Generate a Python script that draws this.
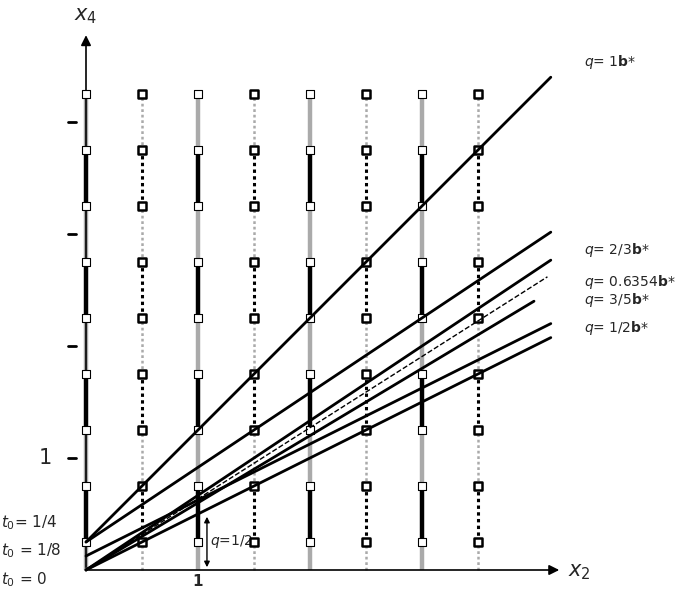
import numpy as np, pandas as pd, matplotlib
matplotlib.use("Agg")
import matplotlib.pyplot as plt, seaborn as sns

col_x = [0, 0.5, 1, 1.5, 2, 2.5, 3, 3.5]
sq_y = [0.25, 0.75, 1.25, 1.75, 2.25, 2.75, 3.25, 3.75, 4.25]
q_slopes = [1.0, 2/3, 2/3, 0.6354, 0.6, 0.5, 0.5]
q_t0 = [0.25, 0.25, 0.0, 0.0, 0.0, 0.125, 0.0]
q_xend = [4.15, 4.15, 4.15, 4.12, 4.0, 4.15, 4.15]
q_dashed = [False, False, False, True, False, False, False]
y_ticks = [1, 2, 3, 4]
labels = [("$q$= 1$\\mathbf{b}$*", 4.54), ("$q$= 2/3$\\mathbf{b}$*", 2.86),
          ("$q$= 0.6354$\\mathbf{b}$*", 2.57), ("$q$= 3/5$\\mathbf{b}$*", 2.41),
          ("$q$= 1/2$\\mathbf{b}$*", 2.16)]

sns.set_style("white")
fig = plt.figure(figsize=(6.81, 5.89), dpi=100)
ax = fig.add_axes([0, 0, 1, 1])
ax.set_xlim(-86/112, (681-86)/112)
ax.set_ylim(-19/112, 570/112)
ax.axis("off")

bounds = [0.0] + sq_y
for cx in col_x:
    integer = float(cx).is_integer()
    for j in range(len(bounds)-1):
        black = (j % 2 == 1)
        c = "black" if black else "#aaaaaa"
        seg = [bounds[j], bounds[j+1]]
        if integer:
            ax.plot([cx, cx], seg, color=c, lw=3.2, solid_capstyle="butt", zorder=2)
        else:
            ax.plot([cx, cx], seg, color=c, lw=2.2 if black else 1.8, ls=(0, (1.1, 1.1)), zorder=2)
df = pd.DataFrame([(cx, y, float(cx).is_integer()) for cx in col_x for y in sq_y], columns=["x", "y", "int"])
sns.scatterplot(data=df[df["int"]], x="x", y="y", marker="s", s=30, facecolor="white", edgecolor="black", linewidth=0.8, ax=ax, zorder=5)
sns.scatterplot(data=df[~df["int"]], x="x", y="y", marker="s", s=30, facecolor="white", edgecolor="black", linewidth=1.8, ax=ax, zorder=5)

for s, t0, xe, d in zip(q_slopes, q_t0, q_xend, q_dashed):
    xs = np.array([0, xe])
    sns.lineplot(x=xs, y=t0 + s*xs, color="black", lw=1.0 if d else 2.0, ls="--" if d else "-", ax=ax, zorder=6)

ax.annotate("", xy=(4.25, 0), xytext=(0, 0), arrowprops=dict(arrowstyle="-|>", color="black", lw=1.2, mutation_scale=15))
ax.annotate("", xy=(0, 4.8), xytext=(0, 0), arrowprops=dict(arrowstyle="-|>", color="black", lw=1.2, mutation_scale=15))
ax.text(4.3, -0.02, "$x_2$", fontsize=15, va="center")
ax.text(0.0, 4.95, "$x_4$", fontsize=15, ha="center", va="center")
for t in y_ticks:
    ax.plot([-0.16, -0.09], [t, t], color="black", lw=2)
ax.text(-0.3, 1, "1", fontsize=15, ha="right", va="center")
ax.text(1.0, -0.04, "1", fontsize=11, ha="center", va="top", fontweight="bold")
ax.annotate("", xy=(1.08, 0.5), xytext=(1.08, 0), arrowprops=dict(arrowstyle="<|-|>", color="black", lw=1, mutation_scale=8))
ax.text(1.11, 0.25, "$q$=1/2", fontsize=10, va="center")
for txt, yy in labels:
    ax.text(4.45, yy, txt, fontsize=10, va="center")
for (x0, y0, y1) in [(578, 237, 233), (578, 258, 263), (580, 283, 283), (580, 300, 300), (578, 313, 318), (578, 333, 338)]:
    ax.annotate("", xy=((556-86)/112, (570-y1)/112), xytext=((x0-86)/112, (570-y0)/112),
                arrowprops=dict(arrowstyle="->", lw=0.8, shrinkA=0, shrinkB=0))
for txt, yy, ay in [("$t_0$= 1/4", 0.42, 0.27), ("$t_0$ = 1/8", 0.17, 0.125), ("$t_0$ = 0", -0.09, 0.0)]:
    ax.text(-0.76, yy, txt, fontsize=11, va="center")
    ax.annotate("", xy=(-0.03, ay), xytext=(-0.2, yy - 0.02),
                arrowprops=dict(arrowstyle="->", lw=0.8, shrinkA=0, shrinkB=1))
fig.savefig("out.png", dpi=100)
